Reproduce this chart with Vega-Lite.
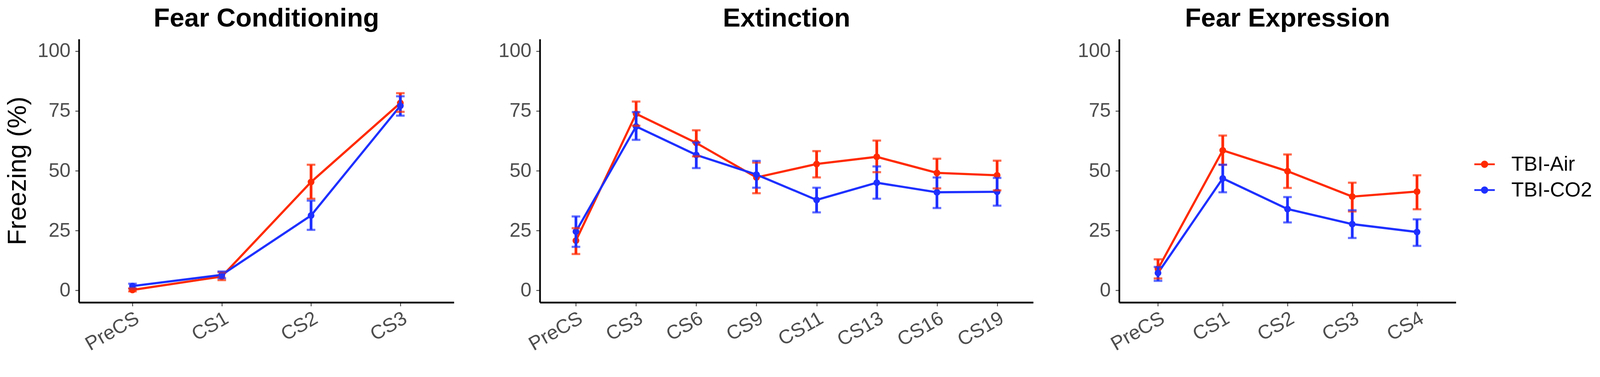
{
  "$schema": "https://vega.github.io/schema/vega-lite/v6.json",
  "background": "white",
  "padding": {"left": 12, "top": 13, "right": 40, "bottom": 10},
  "autosize": {"type": "pad"},
  "spacing": 220,
  "bounds": "flush",
  "config": {
    "font": "Liberation Sans",
    "view": {"stroke": null},
    "title": {"font": "Liberation Sans", "fontSize": 67.5, "fontWeight": "bold", "color": "black", "anchor": "middle", "offset": 18},
    "axis": {
      "domainColor": "black", "domainWidth": 4.3,
      "tickColor": "#333333", "tickWidth": 2.1, "tickSize": 9.5,
      "labelFont": "Liberation Sans", "labelFontSize": 50.5, "labelColor": "#4D4D4D",
      "titleFont": "Liberation Sans", "titleFontSize": 66.5, "titleFontWeight": "normal", "titleColor": "black",
      "grid": false
    },
    "axisX": {"labelAngle": -30, "labelAlign": "right", "labelBaseline": "top", "labelPadding": 5.7},
    "axisY": {"labelPadding": 12.4, "titlePadding": 16}
  },
  "datasets": {
    "freezing": [
      {"phase": "Fear Conditioning", "cs": "PreCS", "group": "TBI-Air", "mean": 0.2, "lo": -0.4, "hi": 0.8},
      {"phase": "Fear Conditioning", "cs": "PreCS", "group": "TBI-CO2", "mean": 1.8, "lo": 0.8, "hi": 2.8},
      {"phase": "Fear Conditioning", "cs": "CS1", "group": "TBI-Air", "mean": 5.8, "lo": 4.3, "hi": 7.6},
      {"phase": "Fear Conditioning", "cs": "CS1", "group": "TBI-CO2", "mean": 6.5, "lo": 5.1, "hi": 7.9},
      {"phase": "Fear Conditioning", "cs": "CS2", "group": "TBI-Air", "mean": 45.3, "lo": 38.3, "hi": 52.5},
      {"phase": "Fear Conditioning", "cs": "CS2", "group": "TBI-CO2", "mean": 31.3, "lo": 25.3, "hi": 37.5},
      {"phase": "Fear Conditioning", "cs": "CS3", "group": "TBI-Air", "mean": 78.3, "lo": 74.6, "hi": 82.4},
      {"phase": "Fear Conditioning", "cs": "CS3", "group": "TBI-CO2", "mean": 77.1, "lo": 73.0, "hi": 81.1},
      {"phase": "Extinction", "cs": "PreCS", "group": "TBI-Air", "mean": 20.8, "lo": 15.2, "hi": 26.0},
      {"phase": "Extinction", "cs": "PreCS", "group": "TBI-CO2", "mean": 24.6, "lo": 18.2, "hi": 30.9},
      {"phase": "Extinction", "cs": "CS3", "group": "TBI-Air", "mean": 73.8, "lo": 68.8, "hi": 78.9},
      {"phase": "Extinction", "cs": "CS3", "group": "TBI-CO2", "mean": 68.5, "lo": 62.9, "hi": 74.5},
      {"phase": "Extinction", "cs": "CS6", "group": "TBI-Air", "mean": 61.6, "lo": 56.0, "hi": 66.9},
      {"phase": "Extinction", "cs": "CS6", "group": "TBI-CO2", "mean": 56.6, "lo": 51.1, "hi": 61.8},
      {"phase": "Extinction", "cs": "CS9", "group": "TBI-Air", "mean": 47.2, "lo": 40.6, "hi": 53.4},
      {"phase": "Extinction", "cs": "CS9", "group": "TBI-CO2", "mean": 48.4, "lo": 42.9, "hi": 54.1},
      {"phase": "Extinction", "cs": "CS11", "group": "TBI-Air", "mean": 52.8, "lo": 47.2, "hi": 58.2},
      {"phase": "Extinction", "cs": "CS11", "group": "TBI-CO2", "mean": 37.8, "lo": 32.6, "hi": 42.9},
      {"phase": "Extinction", "cs": "CS13", "group": "TBI-Air", "mean": 55.8, "lo": 49.4, "hi": 62.6},
      {"phase": "Extinction", "cs": "CS13", "group": "TBI-CO2", "mean": 45.0, "lo": 38.3, "hi": 51.8},
      {"phase": "Extinction", "cs": "CS16", "group": "TBI-Air", "mean": 49.1, "lo": 42.6, "hi": 55.0},
      {"phase": "Extinction", "cs": "CS16", "group": "TBI-CO2", "mean": 41.0, "lo": 34.4, "hi": 47.2},
      {"phase": "Extinction", "cs": "CS19", "group": "TBI-Air", "mean": 48.1, "lo": 41.8, "hi": 54.2},
      {"phase": "Extinction", "cs": "CS19", "group": "TBI-CO2", "mean": 41.2, "lo": 35.4, "hi": 47.0},
      {"phase": "Fear Expression", "cs": "PreCS", "group": "TBI-Air", "mean": 9.0, "lo": 5.0, "hi": 13.0},
      {"phase": "Fear Expression", "cs": "PreCS", "group": "TBI-CO2", "mean": 7.3, "lo": 4.0, "hi": 9.8},
      {"phase": "Fear Expression", "cs": "CS1", "group": "TBI-Air", "mean": 58.5, "lo": 52.5, "hi": 64.7},
      {"phase": "Fear Expression", "cs": "CS1", "group": "TBI-CO2", "mean": 46.8, "lo": 41.0, "hi": 52.5},
      {"phase": "Fear Expression", "cs": "CS2", "group": "TBI-Air", "mean": 49.8, "lo": 42.8, "hi": 56.8},
      {"phase": "Fear Expression", "cs": "CS2", "group": "TBI-CO2", "mean": 34.0, "lo": 28.4, "hi": 39.0},
      {"phase": "Fear Expression", "cs": "CS3", "group": "TBI-Air", "mean": 39.2, "lo": 33.0, "hi": 45.0},
      {"phase": "Fear Expression", "cs": "CS3", "group": "TBI-CO2", "mean": 27.7, "lo": 21.9, "hi": 33.5},
      {"phase": "Fear Expression", "cs": "CS4", "group": "TBI-Air", "mean": 41.3, "lo": 33.9, "hi": 48.1},
      {"phase": "Fear Expression", "cs": "CS4", "group": "TBI-CO2", "mean": 24.4, "lo": 18.6, "hi": 29.7}
    ]
  },
  "hconcat": [
    {
      "title": "Fear Conditioning",
      "width": 960,
      "height": 674,
      "data": {"name": "freezing"},
      "transform": [{"filter": "datum.phase == 'Fear Conditioning'"}],
      "encoding": {
        "x": {"field": "cs", "type": "ordinal", "title": null,
              "scale": {"type": "point", "padding": 0.6, "domain": ["PreCS", "CS1", "CS2", "CS3"]}},
        "color": {"field": "group", "type": "nominal",
                  "scale": {"domain": ["TBI-Air", "TBI-CO2"], "range": ["#FF2A00", "#1E30FF"]},
                  "legend": {"title": null, "orient": "none", "legendX": 3572, "legendY": 294,
                             "symbolType": "M -1 -0.09 L 1 -0.09 L 1 0.09 L -1 0.09 Z M 0.35 0 A 0.35 0.35 0 1 1 -0.35 0 A 0.35 0.35 0 1 1 0.35 0 Z",
                             "symbolSize": 2744, "symbolStrokeWidth": 0, "labelFontSize": 52.4, "labelColor": "black",
                             "labelOffset": 42, "rowPadding": 13, "labelLimit": 600,
                             "encode": {"symbols": {"update": {"fill": {"scale": "color", "field": "value"}, "stroke": {"value": "transparent"}}}}}}
      },
      "layer": [
        {"mark": {"type": "line", "strokeWidth": 5.6},
         "encoding": {"y": {"field": "mean", "type": "quantitative", "title": "Freezing (%)",
                            "scale": {"domain": [-5, 105], "nice": false, "zero": false},
                            "axis": {"values": [0, 25, 50, 75, 100]}}}},
        {"mark": {"type": "point", "filled": true, "opacity": 1, "size": 300},
         "encoding": {"y": {"field": "mean", "type": "quantitative", "title": "Freezing (%)"}}},
        {"mark": {"type": "rule", "strokeWidth": 7},
         "encoding": {"y": {"field": "lo", "type": "quantitative", "title": "Freezing (%)"}, "y2": {"field": "hi"}}},
        {"mark": {"type": "tick", "thickness": 5.5, "size": 22},
         "encoding": {"y": {"field": "lo", "type": "quantitative", "title": "Freezing (%)"}}},
        {"mark": {"type": "tick", "thickness": 5.5, "size": 22},
         "encoding": {"y": {"field": "hi", "type": "quantitative", "title": "Freezing (%)"}}}
      ]
    },
    {
      "title": "Extinction",
      "width": 1263,
      "height": 674,
      "data": {"name": "freezing"},
      "transform": [{"filter": "datum.phase == 'Extinction'"}],
      "encoding": {
        "x": {"field": "cs", "type": "ordinal", "title": null,
              "scale": {"type": "point", "padding": 0.6, "domain": ["PreCS", "CS3", "CS6", "CS9", "CS11", "CS13", "CS16", "CS19"]}},
        "color": {"field": "group", "type": "nominal",
                  "scale": {"domain": ["TBI-Air", "TBI-CO2"], "range": ["#FF2A00", "#1E30FF"]},
                  "legend": {"title": null, "orient": "none", "legendX": 3572, "legendY": 294,
                             "symbolType": "M -1 -0.09 L 1 -0.09 L 1 0.09 L -1 0.09 Z M 0.35 0 A 0.35 0.35 0 1 1 -0.35 0 A 0.35 0.35 0 1 1 0.35 0 Z",
                             "symbolSize": 2744, "symbolStrokeWidth": 0, "labelFontSize": 52.4, "labelColor": "black",
                             "labelOffset": 42, "rowPadding": 13, "labelLimit": 600,
                             "encode": {"symbols": {"update": {"fill": {"scale": "color", "field": "value"}, "stroke": {"value": "transparent"}}}}}}
      },
      "layer": [
        {"mark": {"type": "line", "strokeWidth": 5.6},
         "encoding": {"y": {"field": "mean", "type": "quantitative", "title": null,
                            "scale": {"domain": [-5, 105], "nice": false, "zero": false},
                            "axis": {"values": [0, 25, 50, 75, 100]}}}},
        {"mark": {"type": "point", "filled": true, "opacity": 1, "size": 300},
         "encoding": {"y": {"field": "mean", "type": "quantitative", "title": null}}},
        {"mark": {"type": "rule", "strokeWidth": 7},
         "encoding": {"y": {"field": "lo", "type": "quantitative", "title": null}, "y2": {"field": "hi"}}},
        {"mark": {"type": "tick", "thickness": 5.5, "size": 22},
         "encoding": {"y": {"field": "lo", "type": "quantitative", "title": null}}},
        {"mark": {"type": "tick", "thickness": 5.5, "size": 22},
         "encoding": {"y": {"field": "hi", "type": "quantitative", "title": null}}}
      ]
    },
    {
      "title": "Fear Expression",
      "width": 862,
      "height": 674,
      "data": {"name": "freezing"},
      "transform": [{"filter": "datum.phase == 'Fear Expression'"}],
      "encoding": {
        "x": {"field": "cs", "type": "ordinal", "title": null,
              "scale": {"type": "point", "padding": 0.6, "domain": ["PreCS", "CS1", "CS2", "CS3", "CS4"]}},
        "color": {"field": "group", "type": "nominal",
                  "scale": {"domain": ["TBI-Air", "TBI-CO2"], "range": ["#FF2A00", "#1E30FF"]},
                  "legend": {"title": null, "orient": "none", "legendX": 3572, "legendY": 294,
                             "symbolType": "M -1 -0.09 L 1 -0.09 L 1 0.09 L -1 0.09 Z M 0.35 0 A 0.35 0.35 0 1 1 -0.35 0 A 0.35 0.35 0 1 1 0.35 0 Z",
                             "symbolSize": 2744, "symbolStrokeWidth": 0, "labelFontSize": 52.4, "labelColor": "black",
                             "labelOffset": 42, "rowPadding": 13, "labelLimit": 600,
                             "encode": {"symbols": {"update": {"fill": {"scale": "color", "field": "value"}, "stroke": {"value": "transparent"}}}}}}
      },
      "layer": [
        {"mark": {"type": "line", "strokeWidth": 5.6},
         "encoding": {"y": {"field": "mean", "type": "quantitative", "title": null,
                            "scale": {"domain": [-5, 105], "nice": false, "zero": false},
                            "axis": {"values": [0, 25, 50, 75, 100]}}}},
        {"mark": {"type": "point", "filled": true, "opacity": 1, "size": 300},
         "encoding": {"y": {"field": "mean", "type": "quantitative", "title": null}}},
        {"mark": {"type": "rule", "strokeWidth": 7},
         "encoding": {"y": {"field": "lo", "type": "quantitative", "title": null}, "y2": {"field": "hi"}}},
        {"mark": {"type": "tick", "thickness": 5.5, "size": 22},
         "encoding": {"y": {"field": "lo", "type": "quantitative", "title": null}}},
        {"mark": {"type": "tick", "thickness": 5.5, "size": 22},
         "encoding": {"y": {"field": "hi", "type": "quantitative", "title": null}}}
      ]
    }
  ]
}
